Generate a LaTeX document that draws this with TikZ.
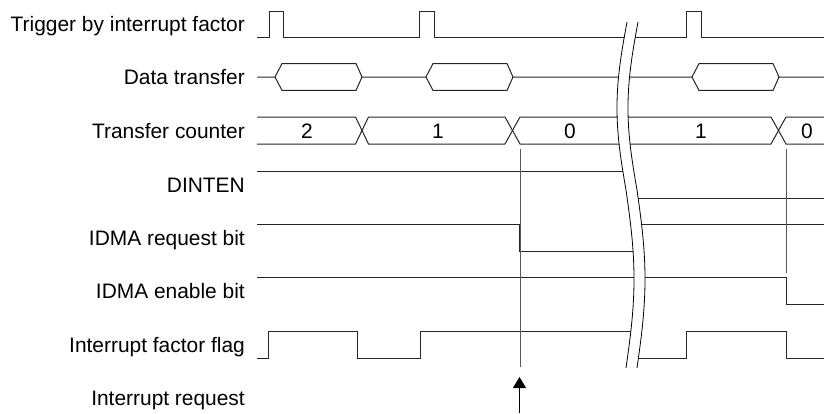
\documentclass[tikz,border=0pt]{standalone}
\usepackage{fontspec}
\setmainfont{Liberation Sans}
\usetikzlibrary{arrows.meta}
\begin{document}
\begin{tikzpicture}[x=1bp,y=-1bp,
  sig/.style={line width=1bp, line join=miter, black!85},
  guide/.style={line width=1bp, black!65},
  brkline/.style={line width=0.8bp, black},
  lbl/.style={anchor=base east, inner sep=0pt, font=\fontsize{21pt}{25pt}\selectfont},
  num/.style={anchor=base, inner sep=0pt, font=\fontsize{21pt}{25pt}\selectfont},
  declare function={brk(\s)=(\s<190)?(627-(\s-22)/168-9.5*sin(1.0714*(\s-22))):(626+8*sin(1.0112*(\s-190)));}]
\useasboundingbox (0,0) rectangle (824,413);

% labels
\node[lbl] (l0) at (245,31.5) {Trigger by interrupt factor};
\node[lbl] (l1) at (245,84.5) {Data transfer};
\node[lbl] (l2) at (245,138) {Transfer counter};
\node[lbl] (l3) at (245,192) {DINTEN};
\node[lbl] (l4) at (245,245) {IDMA request bit};
\node[lbl] (l5) at (245,298) {IDMA enable bit};
\node[lbl] (l6) at (245,352) {Interrupt factor flag};
\node[lbl] (l7) at (245,405.5) {Interrupt request};

% trigger
\draw[sig] (257,37) -- (269,37) -- (269,11) -- (283,11) -- (283,37) -- (419,37) -- (419,11) -- (434,11) -- (434,37) -- (686,37) -- (686,11) -- (701,11) -- (701,37) -- (824,37);

% data transfer
\draw[sig] (257,77) -- (275,77) -- (282,63.6) -- (356,63.6) -- (362,77) -- (426,77) -- (433,63.6) -- (507,63.6) -- (513,77) -- (692,77) -- (699,63.6) -- (773,63.6) -- (779,77) -- (824,77);
\draw[sig] (275,77) -- (282,90.4) -- (356,90.4) -- (362,77);
\draw[sig] (426,77) -- (433,90.4) -- (507,90.4) -- (513,77);
\draw[sig] (692,77) -- (699,90.4) -- (773,90.4) -- (779,77);

% transfer counter
\draw[sig] (257,117) -- (355.5,117) -- (368.5,144) -- (505,144) -- (520,117) -- (771,117) -- (786,144) -- (824,144);
\draw[sig] (257,144) -- (355.5,144) -- (368.5,117) -- (505,117) -- (520,144) -- (771,144) -- (786,117) -- (824,117);
\node[num] (n2) at (307,138) {2};
\node[num] (n1) at (438,138) {1};
\node[num] (n0) at (570,138) {0};
\node[num] (n1b) at (701,138) {1};
\node[num] (n0b) at (807,138) {0};

% DINTEN
\draw[sig] (257,171) -- (629,171) -- (629,198) -- (824,198);
% IDMA request bit
\draw[sig] (257,224) -- (519.5,224) -- (519.5,251) -- (637.5,251) -- (637.5,224) -- (824,224);
% IDMA enable bit
\draw[sig] (257,277) -- (786.5,277) -- (786.5,304) -- (824,304);
% interrupt factor flag
\draw[sig] (257,358) -- (268.5,358) -- (268.5,331) -- (357,331) -- (357,358) -- (420,358) -- (420,331) -- (634.6,331) -- (634.6,358) -- (686,358) -- (686,331) -- (786.5,331) -- (786.5,358) -- (824,358);

% guide lines
\coordinate (g1t) at (520,149);
\coordinate (g1b) at (520,367);
\coordinate (g2t) at (786.5,149);
\coordinate (g2b) at (786.5,273);
\draw[guide] (g1t) -- (g1b);
\draw[guide] (g2t) -- (g2b);

% interrupt request arrow
\coordinate (irqs) at (519.5,413);
\coordinate (irqe) at (519.5,377);
\draw[line width=1bp, -{Triangle[length=11bp,width=13bp]}] (irqs) -- (irqe);

% break
\draw[white, line width=10.6bp] plot[domain=22:368, samples=120, variable=\s] ({brk(\s)+5.5},{\s});
\draw[brkline] plot[domain=22:368, samples=120, variable=\s] ({brk(\s)},{\s});
\draw[brkline] plot[domain=22:368, samples=120, variable=\s] ({brk(\s)+11},{\s});
\end{tikzpicture}
\end{document}
